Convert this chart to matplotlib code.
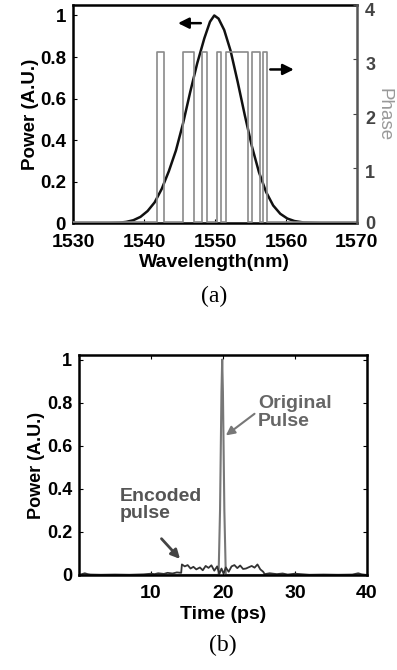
import numpy as np
import matplotlib
matplotlib.use("Agg")
import matplotlib.pyplot as plt
import matplotlib.transforms as mtransforms

plt.rcParams['font.family'] = ['Liberation Sans', 'DejaVu Sans']
plt.rcParams['font.weight'] = 'bold'

# (a) spectrum
wavelength = [1530, 1535, 1536.5, 1537.5, 1538.5, 1539.5, 1540.5, 1541.5, 1542.5,
              1543.5, 1544.5, 1545.5, 1546.5, 1547.5, 1548.5, 1549.3, 1549.9,
              1550.5, 1551.3, 1552.2, 1553.2, 1554.2, 1555.2, 1556.2, 1557.2,
              1558.2, 1559.2, 1560.2, 1561.2, 1562.5, 1565, 1570]
power = [0, 0, 0.002, 0.006, 0.014, 0.030, 0.058, 0.10, 0.165,
         0.25, 0.35, 0.48, 0.63, 0.77, 0.89, 0.97, 1.0,
         0.985, 0.93, 0.83, 0.68, 0.52, 0.37, 0.245, 0.15,
         0.085, 0.045, 0.022, 0.010, 0.003, 0, 0]

# phase code (steps between 0 and pi)
phase_wl = [1530, 1541.8, 1542.8, 1545.5, 1547.1, 1548.2, 1548.85, 1550.3,
            1550.9, 1551.5, 1554.7, 1555.2, 1556.3, 1556.8, 1557.4, 1570]
phase_val = [0, np.pi, 0, np.pi, 0, np.pi, 0, np.pi,
             0, np.pi, 0, np.pi, 0, np.pi, 0, 0]

# (b) time traces
t_orig = [0, 19.4, 19.6, 19.8, 19.9, 20.0, 20.2, 20.4, 40]
p_orig = [0, 0, 0.3, 0.85, 1.0, 0.85, 0.3, 0, 0]

t_enc = [0, 0.8, 1.2, 1.6, 3, 5, 7, 9, 10, 10.5, 11, 11.8, 12.3, 13, 13.6, 14.2,
         14.3, 14.7, 15.1, 15.5, 15.9, 16.3, 16.8, 17.2, 17.6, 18.0, 18.4, 18.8,
         19.2, 19.5, 19.8, 20.1, 20.4, 20.8, 21.2, 21.6, 22.0, 22.4, 22.8, 23.2,
         23.6, 24.0, 24.4, 24.8, 25.2, 25.6, 25.8, 26.5, 27.5, 28.3, 29, 30, 32,
         34, 36, 38, 38.8, 39.3, 40]
p_enc = [0, 0.008, 0.004, 0.002, 0.001, 0.002, 0.001, 0.003, 0.006, 0.004, 0.008,
         0.005, 0.010, 0.007, 0.012, 0.010,
         0.049, 0.040, 0.046, 0.030, 0.038, 0.026, 0.035, 0.022, 0.042, 0.033,
         0.045, 0.020, 0.040, 0.005, 0.030, 0.006, 0.035, 0.015, 0.040, 0.046,
         0.032, 0.044, 0.028, 0.030, 0.036, 0.042, 0.034, 0.049, 0.026, 0.015,
         0.004, 0.008, 0.004, 0.007, 0.002, 0.006, 0.001, 0.002, 0.001, 0.002,
         0.008, 0.003, 0.0]

power_ticks = [0, 0.2, 0.4, 0.6, 0.8, 1]
power_labels = ['0', '0.2', '0.4', '0.6', '0.8', '1']

fig = plt.figure(figsize=(3.97, 6.70), dpi=100)

# ---- panel (a)
ax1 = fig.add_axes([0.184, 0.667, 0.715, 0.3254])
ax1.plot(wavelength, power, color='#111111', lw=1.8, zorder=3)
ax1.set_xlim(1530, 1570)
ax1.set_ylim(0, 1.05)
ax1.set_xticks([1530, 1540, 1550, 1560, 1570])
ax1.set_yticks(power_ticks)
ax1.set_yticklabels(power_labels)
ax1.set_xlabel('Wavelength(nm)', fontsize=14, fontweight='bold', labelpad=2)
ax1.set_ylabel('Power (A.U.)', fontsize=13.5, fontweight='bold', labelpad=1)
ax1.tick_params(axis='x', direction='in', length=3, labelsize=14, pad=8)
ax1.tick_params(axis='y', direction='in', length=3, labelsize=13.5, pad=5)
for s in ['left', 'top', 'bottom']:
    ax1.spines[s].set_linewidth(1.8)
ax1.spines['right'].set_visible(False)

ax1b = ax1.twinx()
ax1b.plot(phase_wl, phase_val, drawstyle='steps-post', color='#8a8a8a', lw=1.2)
ax1b.set_ylim(-0.02, 4.0)
ax1b.set_yticks([0, 1, 2, 3, 4])
ax1b.tick_params(direction='in', length=3, labelsize=13, colors='#444444', pad=6)
ax1b.spines['right'].set_color('#555555')
ax1b.spines['right'].set_linewidth(1.8)
for s in ['left', 'top', 'bottom']:
    ax1b.spines[s].set_visible(False)
ax1b.set_ylabel('Phase', fontsize=13.5, fontweight='normal', color='#999999',
                rotation=270, labelpad=12)
# the phase numbers sit a little below their ticks in the original
shift = mtransforms.ScaledTranslation(0, -0.04, fig.dpi_scale_trans)
for lab in ax1b.get_yticklabels()[1:]:
    lab.set_transform(lab.get_transform() + shift)

ax1.annotate('', xy=(1544.4, 0.963), xytext=(1548.4, 0.963),
             arrowprops=dict(arrowstyle='-|>', color='k', lw=1.8, mutation_scale=16))
ax1.annotate('', xy=(1561.5, 0.74), xytext=(1557.4, 0.74),
             arrowprops=dict(arrowstyle='-|>', color='k', lw=1.8, mutation_scale=16))

fig.text(0.54, 0.558, '(a)', family='Liberation Serif', fontweight='normal',
         fontsize=17, ha='center', va='center')

# ---- panel (b)
ax2 = fig.add_axes([0.199, 0.1418, 0.725, 0.328])
ax2.plot(t_orig, p_orig, color='#777777', lw=1.5)
ax2.plot(t_enc, p_enc, color='#333333', lw=1.3)
ax2.set_xlim(0, 40)
ax2.set_ylim(0, 1.02)
ax2.set_xticks([10, 20, 30, 40])
ax2.set_yticks(power_ticks)
ax2.set_yticklabels(power_labels)
ax2.set_xlabel('Time (ps)', fontsize=14, fontweight='bold', labelpad=3)
ax2.set_ylabel('Power (A.U.)', fontsize=13, fontweight='bold', labelpad=1)
ax2.tick_params(axis='x', direction='in', length=3, labelsize=14, top=True, pad=7)
ax2.tick_params(axis='y', direction='in', length=3, labelsize=13, right=True, pad=5)
for s in ax2.spines.values():
    s.set_linewidth(1.8)

ax2.text(24.9, 0.755, 'Original\nPulse', color='#666666', fontsize=14,
         fontweight='bold', ha='left', va='center', linespacing=1.05)
ax2.annotate('', xy=(20.1, 0.64), xytext=(24.7, 0.756),
             arrowprops=dict(arrowstyle='-|>', color='#777777', lw=1.5, mutation_scale=13))
ax2.text(5.7, 0.325, 'Encoded\npulse', color='#555555', fontsize=14,
         fontweight='bold', ha='left', va='center', linespacing=1.05)
ax2.annotate('', xy=(14.3, 0.065), xytext=(11.2, 0.178),
             arrowprops=dict(arrowstyle='-|>', color='#444444', lw=2.0, mutation_scale=13))

fig.text(0.562, 0.037, '(b)', family='Liberation Serif', fontweight='normal',
         fontsize=17, ha='center', va='center')

fig.savefig('out.png', dpi=100)
